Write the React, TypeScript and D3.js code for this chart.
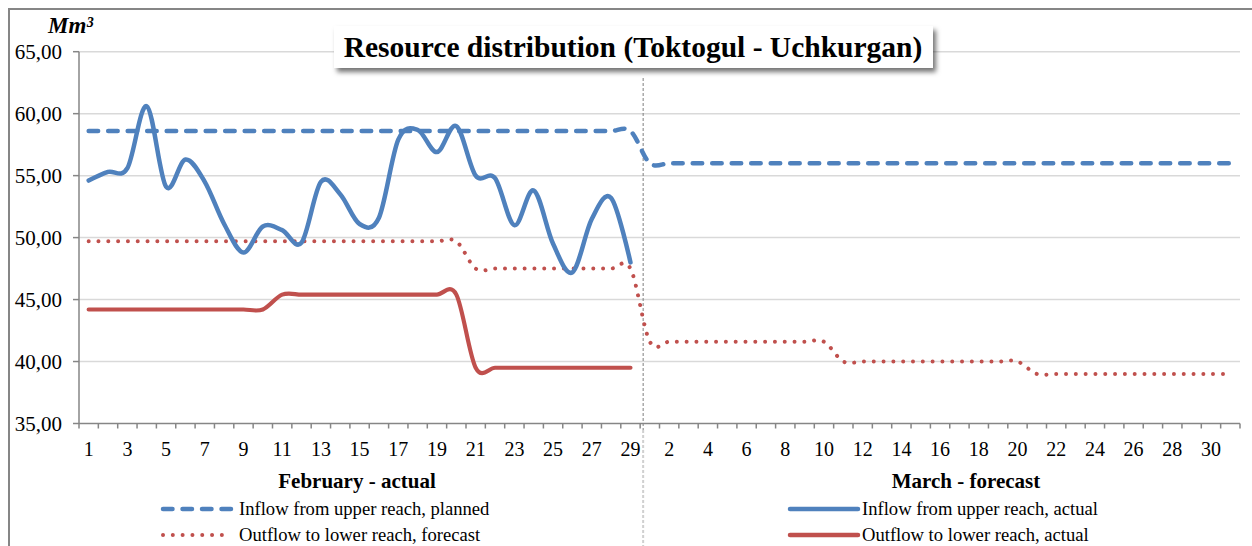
import React from "react";
import * as d3 from "d3";

// ---------- data ----------
const febDays = [1,2,3,4,5,6,7,8,9,10,11,12,13,14,15,16,17,18,19,20,21,22,23,24,25,26,27,28,29];
const marDays = [1,2,3,4,5,6,7,8,9,10,11,12,13,14,15,16,17,18,19,20,21,22,23,24,25,26,27,28,29,30,31];
const yTickValues = [35, 40, 45, 50, 55, 60, 65];
const yTickLabels = ["35,00", "40,00", "45,00", "50,00", "55,00", "60,00", "65,00"];

// Inflow from upper reach, planned (Feb 1..29, Mar 1..31)
const inflowPlanned = [
  58.6,58.6,58.6,58.6,58.6,58.6,58.6,58.6,58.6,58.6,
  58.6,58.6,58.6,58.6,58.6,58.6,58.6,58.6,58.6,58.6,
  58.6,58.6,58.6,58.6,58.6,58.6,58.6,58.6,58.6,
  56.0,56.0,56.0,56.0,56.0,56.0,56.0,56.0,56.0,56.0,
  56.0,56.0,56.0,56.0,56.0,56.0,56.0,56.0,56.0,56.0,
  56.0,56.0,56.0,56.0,56.0,56.0,56.0,56.0,56.0,56.0,56.0,
];
// Inflow from upper reach, actual (Feb 1..29)
const inflowActual = [
  54.6,55.3,55.6,60.6,54.1,56.3,54.5,51.1,48.8,50.9,
  50.6,49.6,54.5,53.5,51.1,51.6,57.9,58.7,56.9,59.0,
  55.0,54.8,51.0,53.8,49.5,47.2,51.5,53.2,48.0,
];
// Outflow to lower reach, forecast (Feb 1..29, Mar 1..31)
const outflowForecast = [
  49.7,49.7,49.7,49.7,49.7,49.7,49.7,49.7,49.7,49.7,
  49.7,49.7,49.7,49.7,49.7,49.7,49.7,49.7,49.7,49.7,
  47.5,47.5,47.5,47.5,47.5,47.5,47.5,47.5,47.5,
  41.6,41.6,41.6,41.6,41.6,41.6,41.6,41.6,41.6,41.6,
  40.0,40.0,40.0,40.0,40.0,40.0,40.0,40.0,40.0,40.0,
  39.0,39.0,39.0,39.0,39.0,39.0,39.0,39.0,39.0,39.0,39.0,
];
// Outflow to lower reach, actual (Feb 1..29)
const outflowActual = [
  44.2,44.2,44.2,44.2,44.2,44.2,44.2,44.2,44.2,44.2,
  45.4,45.4,45.4,45.4,45.4,45.4,45.4,45.4,45.4,45.4,
  39.5,39.5,39.5,39.5,39.5,39.5,39.5,39.5,39.5,
];

const titleText = "Resource distribution (Toktogul - Uchkurgan)";
const unitText = "Mm³";
const febLabel = "February - actual";
const marLabel = "March - forecast";
const legendItems = [
  { name: "Inflow from upper reach, planned", color: "#4F81BD", style: "dash" },
  { name: "Outflow to lower reach, forecast", color: "#C0504D", style: "dot" },
  { name: "Inflow from upper reach, actual", color: "#4F81BD", style: "solid" },
  { name: "Outflow to lower reach, actual", color: "#C0504D", style: "solid" },
];

const BLUE = "#4F81BD";
const RED = "#C0504D";
const AXIS = "#868686";
const GRID = "#D9D9D9";
const FONT = "'Liberation Serif', 'Times New Roman', serif";

export default function App() {
  const W = 1252, H = 546;
  const left = 79, right = 1240, top = 51.7, bottom = 423.5;

  const categories = [
    ...febDays.map((d) => ({ key: `F${d}`, label: String(d) })),
    ...marDays.map((d) => ({ key: `M${d}`, label: String(d) })),
  ];
  const x = d3.scaleBand<number>()
    .domain(categories.map((_, i) => i))
    .range([left, right])
    .padding(0);
  const bw = x.bandwidth();
  const cx = (i: number) => (x(i) as number) + bw / 2;
  const y = d3.scaleLinear().domain([35, 65]).range([bottom, top]);

  const line = d3.line<number>()
    .x((_, i) => cx(i))
    .y((v) => y(v))
    .curve(d3.curveCardinal.tension(0));

  const sepX = (x(febDays.length) as number) + 3;

  return (
    <svg width={W} height={H} style={{ position: "absolute", left: 0, top: 0, background: "#fff" }}
      fontFamily={FONT}>
      <defs>
        <filter id="shadow" x="-10%" y="-30%" width="125%" height="180%">
          <feDropShadow dx="3" dy="4" stdDeviation="2.5" floodColor="#000" floodOpacity="0.55" />
        </filter>
      </defs>
      <rect x={0} y={0} width={W} height={H} fill="#fff" />
      {/* outer border */}
      <rect x={9} y={9} width={W + 20} height={H + 20} fill="none" stroke={AXIS} strokeWidth={2} />

      {/* gridlines */}
      {yTickValues.filter((v) => v !== 35).map((v) => (
        <line key={`g${v}`} x1={left} x2={right} y1={y(v)} y2={y(v)} stroke={GRID} strokeWidth={1.5} />
      ))}

      {/* separator */}
      <line x1={sepX} x2={sepX} y1={78} y2={430} stroke="#7F7F7F" strokeWidth={1} strokeDasharray="3 2" />
      <line x1={sepX} x2={sepX} y1={430} y2={H} stroke="#D0D0D0" strokeWidth={2} strokeDasharray="3 2" />

      {/* y axis */}
      <line x1={left} x2={left} y1={top} y2={bottom} stroke={AXIS} strokeWidth={1.5} />
      {yTickValues.map((v, k) => (
        <g key={`yt${v}`}>
          <line x1={left - 6} x2={left} y1={y(v)} y2={y(v)} stroke={AXIS} strokeWidth={1.5} />
          <text x={62} y={y(v) + 7} textAnchor="end" fontSize={21} fill="#000">{yTickLabels[k]}</text>
        </g>
      ))}

      {/* x axis */}
      <line x1={left} x2={right} y1={bottom} y2={bottom} stroke={AXIS} strokeWidth={1.5} />
      {categories.map((c, i) => (
        <line key={`xt${c.key}`} x1={x(i) as number} x2={x(i) as number} y1={bottom} y2={bottom + 5} stroke={AXIS} strokeWidth={1.5} />
      ))}
      <line x1={right} x2={right} y1={bottom} y2={bottom + 5} stroke={AXIS} strokeWidth={1.5} />
      {categories.map((c, i) => i % 2 === 0 ? (
        <text key={`xl${c.key}`} x={cx(i)} y={456} textAnchor="middle" fontSize={20} fill="#000">{c.label}</text>
      ) : null)}

      {/* series */}
      <path d={line(outflowActual) || ""} fill="none" stroke={RED} strokeWidth={4.2} strokeLinecap="round" strokeLinejoin="round" />
      <path d={line(outflowForecast) || ""} fill="none" stroke={RED} strokeWidth={4} strokeLinecap="round" strokeDasharray="0.01 9.8" />
      <path d={line(inflowPlanned) || ""} fill="none" stroke={BLUE} strokeWidth={4.5} strokeLinecap="round" strokeDasharray="9.5 10" />
      <path d={line(inflowActual) || ""} fill="none" stroke={BLUE} strokeWidth={4.5} strokeLinecap="round" strokeLinejoin="round" />

      {/* unit */}
      <text x={48} y={33} fontSize={23} fontWeight="bold" fontStyle="italic" fill="#000">{unitText}</text>

      {/* title box */}
      <rect x={334} y={26} width={599} height={42} fill="#fff" filter="url(#shadow)" />
      <text x={633} y={57} textAnchor="middle" fontSize={29.5} fontWeight="bold" fill="#000">{titleText}</text>

      {/* month labels */}
      <text x={357} y={488} textAnchor="middle" fontSize={21} fontWeight="bold" fill="#000">{febLabel}</text>
      <text x={966} y={488} textAnchor="middle" fontSize={21} fontWeight="bold" fill="#000">{marLabel}</text>

      {/* legend */}
      {legendItems.map((it, k) => {
        const col = Math.floor(k / 2);
        const row = k % 2;
        const lx1 = col === 0 ? 163 : 790;
        const lx2 = col === 0 ? 231 : 858;
        const tx = col === 0 ? 239 : 862;
        const ly = row === 0 ? 509 : 535;
        const dash = it.style === "dash" ? "9.5 10" : it.style === "dot" ? "0.01 9.8" : undefined;
        return (
          <g key={it.name}>
            <line x1={lx1} x2={it.style === "dot" ? 225 : lx2} y1={ly} y2={ly} stroke={it.color}
              strokeWidth={it.style === "dot" ? 4 : 4.5} strokeLinecap="round" strokeDasharray={dash} />
            <text x={tx} y={ly + 6} fontSize={18.6} fill="#000">{it.name}</text>
          </g>
        );
      })}
    </svg>
  );
}
